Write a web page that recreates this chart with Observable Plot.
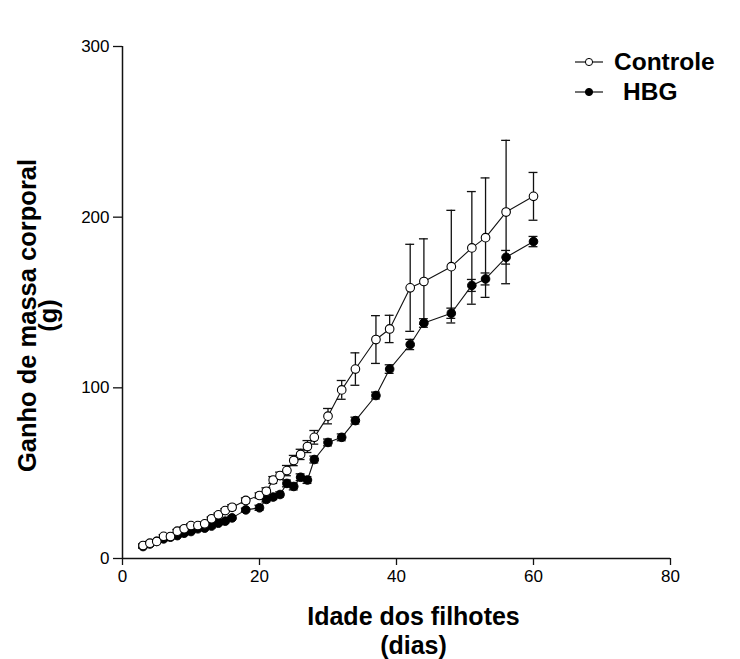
<!DOCTYPE html>
<html>
<head>
<meta charset="utf-8">
<script src="https://cdn.jsdelivr.net/npm/d3@7"></script>
<script src="https://cdn.jsdelivr.net/npm/@observablehq/plot@0.6"></script>
<style>
  html, body { margin: 0; padding: 0; background: white; }
  #chart { position: relative; width: 740px; height: 659px; }
</style>
</head>
<body>
<div id="chart"></div>
<script>
const days = [3,4,5,6,7,8,9,10,11,12,13,14,15,16,18,20,21,22,23,24,25,26,27,28,30,32,34,37,39,42,44,48,51,53,56,60];
const controleMean = [7.6,9,10,13,12.9,16,17.4,19.3,19.3,20.3,23.3,25.6,28.1,30,34,36.9,39.4,46,48.6,51.5,57.4,61,65.6,71,83.4,98.8,111,128.3,134.5,158.6,162.3,171,182,188,203,212.2];
const controleSem  = [1,1,1,1,1,1,1,1,1,1,1,1,1,1.5,1.5,1.5,2,2,2,3,3,3,3.5,4,4.5,5.5,9.5,14,8,25.5,25,33,33,35,42,14];
const hbgMean = [7,8.5,10,11.5,12.5,13.4,14.8,15.8,17.4,17.8,19,20.7,21.9,23.8,28.5,29.7,34.6,36,37.5,44,42.2,47.6,46,58,68,71,80.8,95.5,111,125.4,138,143.7,160,163.8,176.5,185.7];
const hbgSem  = [1,1,1,1,1,1,1,1,1,1,1,1,1,1,1,1.5,1.5,1.5,1.5,2,2,2,2,2,2,2,2,2,2.5,3,2.5,3,3.5,3.5,4,3];
const series = ["Controle", "HBG"];
const xTicks = [0, 20, 40, 60, 80];
const yTicks = [0, 100, 200, 300];

const controle = days.map((d, i) => ({day: d, mean: controleMean[i], sem: controleSem[i], group: series[0]}));
const hbg = days.map((d, i) => ({day: d, mean: hbgMean[i], sem: hbgSem[i], group: series[1]}));

const capHalf = 0.65;
function errorMarks(rows) {
  return [
    Plot.ruleX(rows, {x: "day", y1: d => d.mean - d.sem, y2: d => d.mean + d.sem, stroke: "#111", strokeWidth: 1.3}),
    Plot.ruleY(rows, {y: d => d.mean + d.sem, x1: d => d.day - capHalf, x2: d => d.day + capHalf, stroke: "#111", strokeWidth: 1.3}),
    Plot.ruleY(rows, {y: d => d.mean - d.sem, x1: d => d.day - capHalf, x2: d => d.day + capHalf, stroke: "#111", strokeWidth: 1.3})
  ];
}

const chart = Plot.plot({
  width: 740,
  height: 659,
  marginLeft: 122,
  marginRight: 70,
  marginTop: 46,
  marginBottom: 101,
  x: {domain: [0, 80]},
  y: {domain: [0, 300]},
  style: {fontFamily: "'Liberation Sans', Arial, sans-serif", background: "white", color: "black"},
  marks: [
    Plot.axisX({ticks: xTicks, tickSize: 7, tickPadding: 4, fontSize: 17, label: null, stroke: "#111", strokeWidth: 1.3}),
    Plot.axisY({ticks: yTicks, tickSize: 9, tickPadding: 4, fontSize: 17, label: null, stroke: "#111", strokeWidth: 1.3}),
    Plot.ruleX([0], {y1: 0, y2: 300, stroke: "#111", strokeWidth: 1.5}),
    Plot.ruleY([0], {x1: 0, x2: 80, stroke: "#111", strokeWidth: 1.5}),
    ...errorMarks(hbg),
    ...errorMarks(controle),
    Plot.line(hbg, {x: "day", y: "mean", stroke: "#111", strokeWidth: 1.1}),
    Plot.dot(hbg, {x: "day", y: "mean", r: 4.3, fill: "#000", stroke: "#000", strokeWidth: 1}),
    Plot.line(controle, {x: "day", y: "mean", stroke: "#111", strokeWidth: 1.1}),
    Plot.dot(controle, {x: "day", y: "mean", r: 4.3, fill: "white", stroke: "#000", strokeWidth: 1.1}),
    Plot.text(["Ganho de massa corporal\n(g)"], {frameAnchor: "left", textAnchor: "middle", lineAnchor: "middle", rotate: -90, dx: -83, dy: 13, fontSize: 25.5, fontWeight: "bold", lineHeight: 0.82, fill: "#000"}),
    Plot.text(["Idade dos filhotes\n(dias)"], {frameAnchor: "bottom", textAnchor: "middle", lineAnchor: "middle", dx: 17, dy: 72, fontSize: 25, fontWeight: "bold", lineHeight: 1.13, fill: "#000"})
  ]
});

document.getElementById("chart").appendChild(chart);

// legend
const svg = d3.select(chart);
const lg = svg.append("g").attr("font-family", "'Liberation Sans', Arial, sans-serif").attr("text-anchor", "start");
const legendItems = [
  {name: series[0], y: 62, fill: "white", tx: 614},
  {name: series[1], y: 92, fill: "#000", tx: 623}
];
legendItems.forEach(it => {
  lg.append("line").attr("x1", 575).attr("x2", 603).attr("y1", it.y).attr("y2", it.y).attr("stroke", "#111").attr("stroke-width", 1.2);
  lg.append("circle").attr("cx", 589).attr("cy", it.y).attr("r", 3.6).attr("fill", it.fill).attr("stroke", "#000").attr("stroke-width", 1);
  lg.append("text").attr("x", it.tx).attr("y", it.y + 8).attr("text-anchor", "start").attr("font-size", 24.5).attr("font-weight", "bold").attr("fill", "#000").text(it.name);
});
</script>
</body>
</html>
